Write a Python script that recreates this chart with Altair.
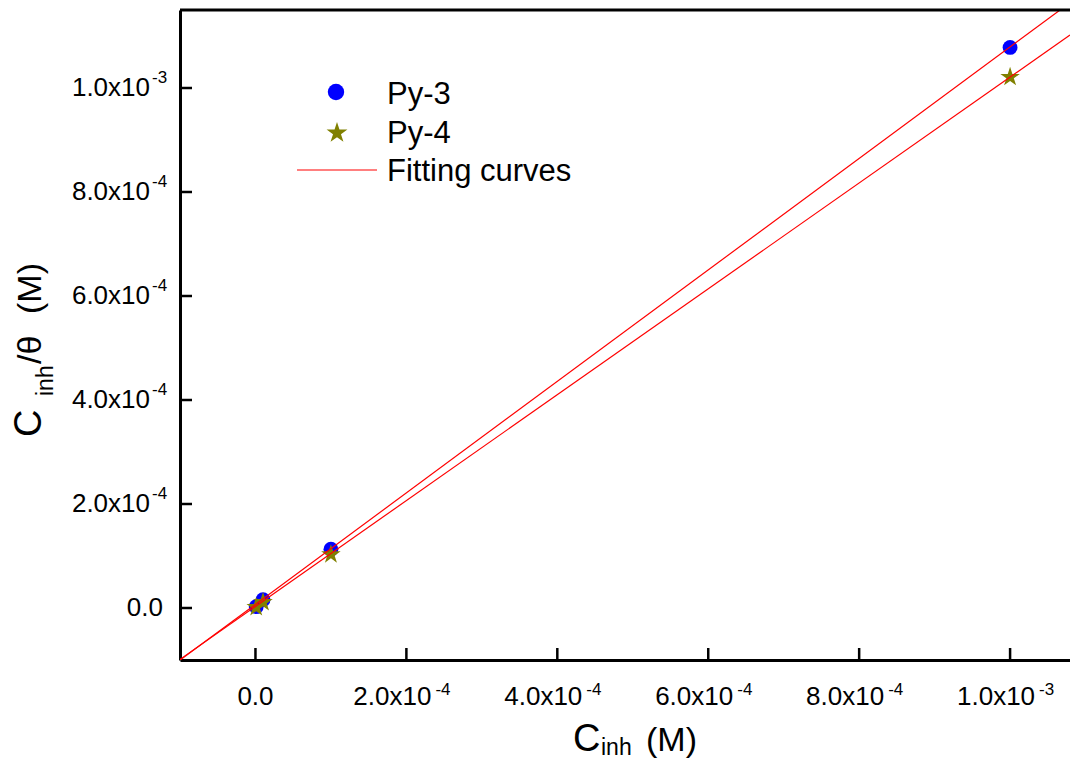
import altair as alt
import pandas as pd

# ---- data ----
conc = [1e-6, 1e-5, 1e-4, 1e-3]
py3_vals = [2.5e-6, 1.6e-5, 1.13e-4, 1.078e-3]
py4_vals = [1.5e-6, 1.1e-5, 1.03e-4, 1.021e-3]

fit_names = ["Py-3", "Py-4"]
fit_slope = [1.072, 1.018]
fit_intercept = [7e-6, 3e-6]

x_ticks = [0.0, 2e-4, 4e-4, 6e-4, 8e-4, 1e-3]
x_tick_base = ["0.0", "2.0x10", "4.0x10", "6.0x10", "8.0x10", "1.0x10"]
x_tick_exp = ["", "-4", "-4", "-4", "-4", "-3"]
y_ticks = [0.0, 2e-4, 4e-4, 6e-4, 8e-4, 1e-3]
y_tick_base = ["0.0", "2.0x10", "4.0x10", "6.0x10", "8.0x10", "1.0x10"]
y_tick_exp = ["", "-4", "-4", "-4", "-4", "-3"]

X_DOMAIN = [-1e-4, 1.0794e-3]
Y_DOMAIN = [-1e-4, 1.15e-3]

W, H = 890, 650
FONT = "Liberation Sans"
TICK_FS = 26
EXP_FS = 17
TITLE_FS = 34
TITLE_C_FS = 38
SUB_FS = 23
LEG_FS = 31

STAR = ("M0,-1L0.2245,-0.309L0.951,-0.309L0.363,0.118L0.588,0.809L0,0.382"
        "L-0.588,0.809L-0.363,0.118L-0.951,-0.309L-0.2245,-0.309Z")

xs = alt.Scale(domain=X_DOMAIN, nice=False, zero=False)
ys = alt.Scale(domain=Y_DOMAIN, nice=False, zero=False)

pts3 = pd.DataFrame({"c": conc, "v": py3_vals})
pts4 = pd.DataFrame({"c": conc, "v": py4_vals})

fit_rows = []
for name, m, b in zip(fit_names, fit_slope, fit_intercept):
    for xv in X_DOMAIN:
        fit_rows.append({"series": name, "c": xv, "v": m * xv + b})
fit_df = pd.DataFrame(fit_rows)

xt = pd.DataFrame({"v": x_ticks, "base": x_tick_base, "exp": x_tick_exp})
yt = pd.DataFrame({"v": y_ticks, "base": y_tick_base, "exp": y_tick_exp})
xt_zero = xt[xt["exp"] == ""]
xt_exp = xt[xt["exp"] != ""]
yt_zero = yt[yt["exp"] == ""]
yt_exp = yt[yt["exp"] != ""]

one = pd.DataFrame({"k": [0]})

X = lambda f: alt.X(f, type="quantitative", scale=xs, title=None)
Y = lambda f: alt.Y(f, type="quantitative", scale=ys, title=None)

# scatter points
circles = alt.Chart(pts3).mark_point(
    shape="circle", filled=True, size=220, color="#0000ff", opacity=1
).encode(x=X("c"), y=Y("v"))
stars = alt.Chart(pts4).mark_point(
    shape=STAR, filled=True, size=420, color="#808000", opacity=1
).encode(x=X("c"), y=Y("v"))
fits = alt.Chart(fit_df).mark_line(clip=True, color="#ff0000", strokeWidth=1.2).encode(
    x=X("c"), y=Y("v"), detail="series:N"
)

# inward ticks
xtick_marks = alt.Chart(xt).mark_rule(color="black", strokeWidth=2.5).encode(
    x=X("v"), y=alt.value(H), y2=alt.value(H - 12)
)
ytick_marks = alt.Chart(yt).mark_rule(color="black", strokeWidth=2.5).encode(
    y=Y("v"), x=alt.value(0), x2=alt.value(12)
)
top_border = alt.Chart(one).mark_rule(color="black", strokeWidth=3).encode(
    x=alt.value(0), x2=alt.value(W), y=alt.value(0)
)

# tick labels
txt = dict(font=FONT, color="black")
xl0 = alt.Chart(xt_zero).mark_text(align="center", baseline="alphabetic", fontSize=TICK_FS, **txt).encode(
    x=X("v"), y=alt.value(H + 45), text="base:N"
)
xlb = alt.Chart(xt_exp).mark_text(align="right", baseline="alphabetic", fontSize=TICK_FS, dx=25, **txt).encode(
    x=X("v"), y=alt.value(H + 45), text="base:N"
)
xle = alt.Chart(xt_exp).mark_text(align="left", baseline="alphabetic", fontSize=EXP_FS, dx=29, **txt).encode(
    x=X("v"), y=alt.value(H + 35), text="exp:N"
)
yl0 = alt.Chart(yt_zero).mark_text(align="right", baseline="middle", fontSize=TICK_FS, **txt).encode(
    y=Y("v"), x=alt.value(-17), text="base:N"
)
ylb = alt.Chart(yt_exp).mark_text(align="right", baseline="middle", fontSize=TICK_FS, **txt).encode(
    y=Y("v"), x=alt.value(-30), text="base:N"
)
yle = alt.Chart(yt_exp).mark_text(align="left", baseline="middle", fontSize=EXP_FS, dy=-10, **txt).encode(
    y=Y("v"), x=alt.value(-28), text="exp:N"
)


def label(text, x, y, fs, angle=0):
    kw = dict(align="left", baseline="alphabetic", fontSize=fs, text=text, **txt)
    if angle:
        kw["angle"] = angle
    return alt.Chart(one).mark_text(**kw).encode(x=alt.value(x), y=alt.value(y))


# axis titles
x_title = [
    label("C", 393, H + 91, TITLE_C_FS),
    label("inh", 421, H + 95, SUB_FS),
    label("(M)", 466, H + 91, TITLE_FS),
]
y_title = [
    label("C", -139, 427, TITLE_C_FS, 270),
    label("inh", -127, 386, SUB_FS, 270),
    label("/\u03b8", -139, 354, TITLE_FS, 270),
    label("(M)", -139, 304, TITLE_FS, 270),
]

# legend
leg_circle = alt.Chart(one).mark_point(shape="circle", filled=True, size=270, color="#0000ff", opacity=1).encode(
    x=alt.value(156), y=alt.value(82)
)
leg_star = alt.Chart(one).mark_point(shape=STAR, filled=True, size=480, color="#808000", opacity=1).encode(
    x=alt.value(157), y=alt.value(123)
)
leg_line = alt.Chart(one).mark_rule(color="#ff0000", strokeWidth=1.2).encode(
    x=alt.value(117), x2=alt.value(197), y=alt.value(160)
)
leg_texts = [
    label("Py-3", 207, 94, LEG_FS),
    label("Py-4", 207, 133, LEG_FS),
    label("Fitting curves", 207, 171, LEG_FS),
]

chart = alt.layer(
    circles, stars, fits,
    xtick_marks, ytick_marks, top_border,
    xl0, xlb, xle, yl0, ylb, yle,
    *x_title, *y_title,
    leg_circle, leg_star, leg_line, *leg_texts,
).properties(
    width=W, height=H,
    autosize=alt.AutoSizeParams(type="none"),
    padding={"left": 172, "top": 2, "right": 0, "bottom": 100},
).configure_view(stroke=None).configure_axis(
    labels=False, ticks=False, grid=False, domainWidth=3, domainColor="black"
)

chart.save("out.html", embed_options={"renderer": "svg", "actions": False})
